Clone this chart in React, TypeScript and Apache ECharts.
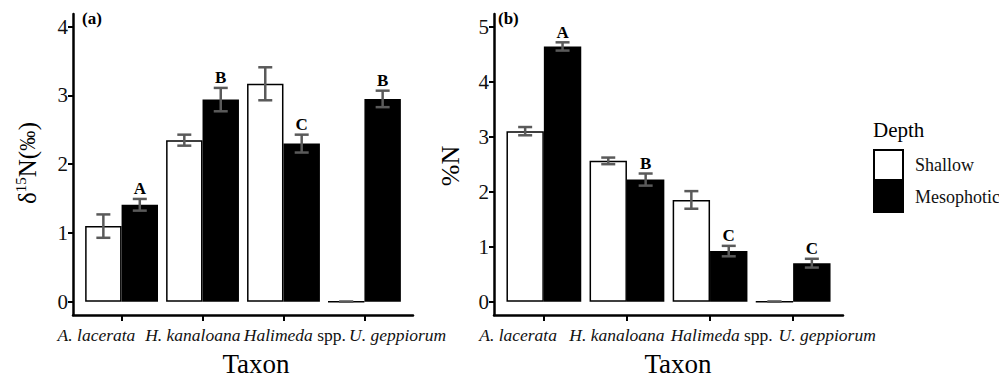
import React, { useEffect, useRef } from 'react';
import * as echarts from 'echarts';

// ---- data ----
const taxa = ['A. lacerata', 'H. kanaloana', 'Halimeda spp.', 'U. geppiorum'];
const depthNames = ['Shallow', 'Mesophotic'];

const d15nShallow = [1.10, 2.35, 3.17, 0];
const d15nShallowSE = [0.17, 0.08, 0.24, 0];
const d15nMeso = [1.41, 2.94, 2.30, 2.95];
const d15nMesoSE = [0.085, 0.17, 0.13, 0.12];
const d15nLetters = ['A', 'B', 'C', 'B'];

const pctNShallow = [3.10, 2.56, 1.85, 0];
const pctNShallowSE = [0.075, 0.06, 0.16, 0];
const pctNMeso = [4.64, 2.22, 0.92, 0.70];
const pctNMesoSE = [0.075, 0.11, 0.095, 0.08];
const pctNLetters = ['A', 'B', 'C', 'C'];

const d15nTicks = [0, 1, 2, 3, 4];
const pctNTicks = [0, 1, 2, 3, 4, 5];
const taxonPositions = [1, 2, 3, 4];
// label anchors are spread wider than the ticks in the reference layout
const taxonLabelPositions = [0.69, 1.88, 3.14, 4.41];

const FAM = 'Liberation Serif, serif';
const TXT = '#111';
const f = (size: number, extra = '') => `${extra ? extra + ' ' : ''}${size}px ${FAM}`;

function measure(text: string, font: string) {
  const ctx = document.createElement('canvas').getContext('2d');
  if (!ctx) return text.length * 10;
  ctx.font = font;
  return ctx.measureText(text).width;
}

function taxonLabel(v: number) {
  let idx = 0;
  let best = Infinity;
  taxonLabelPositions.forEach((p, i) => {
    if (Math.abs(p - v) < best) { best = Math.abs(p - v); idx = i; }
  });
  const name = taxa[idx];
  if (name.endsWith(' spp.')) return `{i|${name.slice(0, -5)}}{n| spp.}`;
  return `{i|${name}}`;
}

function xAxis(gridIndex: number) {
  return {
    type: 'value',
    gridIndex,
    min: 0.4,
    max: 4.6,
    splitLine: { show: false },
    axisLine: { show: true, onZero: false, lineStyle: { color: '#000', width: 2.5 } },
    axisTick: { show: true, customValues: taxonPositions, length: 6, lineStyle: { color: '#000', width: 2 } },
    axisLabel: {
      customValues: taxonLabelPositions,
      formatter: taxonLabel,
      hideOverlap: false,
      showMinLabel: true,
      showMaxLabel: true,
      margin: 11,
      fontSize: 17.5,
      fontFamily: FAM,
      color: TXT,
      rich: {
        i: { fontStyle: 'italic', fontSize: 17.5, fontFamily: FAM, color: TXT },
        n: { fontSize: 17.5, fontFamily: FAM, color: TXT },
      },
    },
  };
}

function yAxis(gridIndex: number, min: number, max: number, ticks: number[]) {
  return {
    type: 'value',
    gridIndex,
    min,
    max,
    splitLine: { show: false },
    axisLine: { show: true, onZero: false, lineStyle: { color: '#000', width: 2.5 } },
    axisTick: { show: true, customValues: ticks, length: 5, lineStyle: { color: '#000', width: 2 } },
    axisLabel: {
      customValues: ticks,
      showMinLabel: true,
      showMaxLabel: true,
      margin: 5,
      fontSize: 21,
      fontFamily: FAM,
      color: TXT,
    },
  };
}

function barSeries(g: number, name: string, values: number[], fill: string) {
  return {
    type: 'bar',
    name,
    xAxisIndex: g,
    yAxisIndex: g,
    data: values.map((v, i) => [taxonPositions[i], v]),
    barGap: '0%',
    barCategoryGap: '10%',
    itemStyle: { color: fill, borderColor: '#000', borderWidth: 1.5 },
    silent: true,
    z: 2,
  };
}

function errSeries(g: number, means: number[], ses: number[], sign: number, letters: string[] | null) {
  return {
    type: 'custom',
    xAxisIndex: g,
    yAxisIndex: g,
    z: 5,
    silent: true,
    data: means.map((m, i) => [taxonPositions[i], m, ses[i]]),
    renderItem: (params: any, api: any) => {
      const x = api.value(0);
      const m = api.value(1);
      const s = api.value(2);
      const band = api.size([1, 0])[0];
      const off = sign * band * 0.225;
      const top = api.coord([x, m + s]);
      const bot = api.coord([x, m - s]);
      const cx = top[0] + off;
      const half = 7;
      const style = { stroke: '#5a5a5a', lineWidth: 2.5 };
      const children: any[] = [
        { type: 'line', shape: { x1: cx, y1: top[1], x2: cx, y2: bot[1] }, style },
        { type: 'line', shape: { x1: cx - half, y1: top[1], x2: cx + half, y2: top[1] }, style },
        { type: 'line', shape: { x1: cx - half, y1: bot[1], x2: cx + half, y2: bot[1] }, style },
      ];
      const letter = letters ? letters[params.dataIndex] : '';
      if (letter) {
        children.push({
          type: 'text',
          x: cx,
          y: top[1] - 10,
          style: {
            text: letter,
            font: f(17, 'bold'),
            fill: '#000',
            textAlign: 'center',
            textVerticalAlign: 'middle',
          },
        });
      }
      return { type: 'group', children };
    },
  };
}

function deltaTitle() {
  const big = f(25);
  const sup = f(15);
  const permFont = f(24);
  const w1 = measure('δ', big) + measure('15', sup) + measure('N(', big);
  const wp = measure('‰', permFont);
  const sx = Math.min(1, 20 / wp);
  return {
    type: 'group',
    x: 27,
    y: 204,
    rotation: Math.PI / 2,
    children: [
      {
        type: 'text', x: 0, y: 0,
        style: {
          text: '{d|δ}{s|15}{d|N(}',
          textAlign: 'left', textVerticalAlign: 'middle', fill: '#000',
          rich: {
            d: { font: big, lineHeight: 28, fill: '#000' },
            s: { font: sup, lineHeight: 15, verticalAlign: 'top', fill: '#000' },
          },
        },
      },
      { type: 'text', x: w1, y: 0, scaleX: sx, style: { text: '‰', font: permFont, fill: '#000', textAlign: 'left', textVerticalAlign: 'middle' } },
      { type: 'text', x: w1 + wp * sx + 0.5, y: 0, style: { text: ')', font: big, fill: '#000', textAlign: 'left', textVerticalAlign: 'middle' } },
    ],
  };
}

export default function App() {
  const ref = useRef<HTMLDivElement>(null);
  useEffect(() => {
    if (!ref.current) return;
    const chart = echarts.init(ref.current, null, { renderer: 'svg' });
    const option: any = {
      animation: false,
      backgroundColor: '#fff',
      textStyle: { fontFamily: FAM },
      grid: [
        { left: 73, right: 999 - 413, top: 14, bottom: 379 - 315 },
        { left: 494, right: 999 - 843, top: 14, bottom: 379 - 315 },
      ],
      xAxis: [xAxis(0), xAxis(1)],
      yAxis: [yAxis(0, -0.193, 4.185, d15nTicks), yAxis(1, -0.242, 5.23, pctNTicks)],
      legend: {
        data: depthNames,
        orient: 'vertical',
        left: 873,
        top: 149,
        itemWidth: 29,
        itemHeight: 30,
        itemGap: 0,
        icon: 'rect',
        padding: 0,
        selectedMode: false,
        textStyle: { fontFamily: FAM, fontSize: 18, color: TXT, padding: [0, 0, 0, 7] },
      },
      series: [
        barSeries(0, depthNames[0], d15nShallow, '#fff'),
        barSeries(0, depthNames[1], d15nMeso, '#000'),
        errSeries(0, d15nShallow, d15nShallowSE, -1, null),
        errSeries(0, d15nMeso, d15nMesoSE, 1, d15nLetters),
        barSeries(1, depthNames[0], pctNShallow, '#fff'),
        barSeries(1, depthNames[1], pctNMeso, '#000'),
        errSeries(1, pctNShallow, pctNShallowSE, -1, null),
        errSeries(1, pctNMeso, pctNMesoSE, 1, pctNLetters),
      ],
      graphic: [
        { type: 'text', x: 82, y: 18, style: { text: '(a)', font: f(17, 'bold'), fill: '#000', textVerticalAlign: 'middle' } },
        { type: 'text', x: 498, y: 18, style: { text: '(b)', font: f(17, 'bold'), fill: '#000', textVerticalAlign: 'middle' } },
        { type: 'text', x: 256, y: 364, style: { text: 'Taxon', font: f(27), fill: '#000', textAlign: 'center', textVerticalAlign: 'middle' } },
        { type: 'text', x: 678, y: 364, style: { text: 'Taxon', font: f(27), fill: '#000', textAlign: 'center', textVerticalAlign: 'middle' } },
        deltaTitle(),
        { type: 'text', x: 450, y: 166, rotation: Math.PI / 2, style: { text: '%N', font: f(26), fill: '#000', textAlign: 'center', textVerticalAlign: 'middle' } },
        { type: 'text', x: 873, y: 130, style: { text: 'Depth', font: f(21), fill: '#000', textVerticalAlign: 'middle' } },
      ],
    };
    chart.setOption(option);
    return () => chart.dispose();
  }, []);
  return <div ref={ref} style={{ position: 'absolute', left: 0, top: 0, width: 999, height: 379 }} />;
}
